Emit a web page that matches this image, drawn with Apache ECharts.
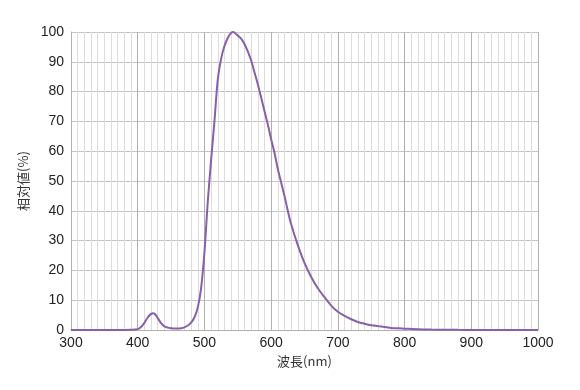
<!DOCTYPE html>
<html>
<head>
<meta charset="utf-8">
<script src="https://cdn.jsdelivr.net/npm/echarts@6/dist/echarts.min.js"></script>
<style>html,body{margin:0;padding:0;background:#fff}#c{width:580px;height:390px}</style>
</head>
<body>
<div id="c"></div>
<script>
var wavelengths = [300,350,380,390,400,405,410,415,420,423,426,430,435,440,445,450,455,460,465,470,475,480,485,490,495,500,505,510,515,520,525,530,535,540,543,546,550,555,560,565,570,575,580,585,590,595,600,605,610,615,620,625,630,640,650,660,670,680,690,700,710,720,730,740,750,760,770,780,790,800,820,840,860,880,900,950,1000];
var relative = [0,0,0,0.05,0.3,1.0,2.4,4.2,5.4,5.6,5.3,4.0,2.3,1.2,0.8,0.6,0.5,0.5,0.6,0.9,1.5,2.5,4.2,7.5,14,26,43,57,70,84,91,95.3,98,99.7,100,99.6,98.8,97.8,96,93.5,90.5,86.5,82.5,78,73.5,69,64,59.5,54,49.5,45,40,35.5,28.5,22.5,17.8,14,11,8.2,6.1,4.7,3.6,2.7,2.1,1.6,1.3,1.0,0.7,0.55,0.45,0.25,0.15,0.1,0.05,0.03,0,0];
var xName = '波長(nm)';
var yName = '相対値(%)';

var pts = wavelengths.map(function(w,i){return [w, relative[i]];});
var font = '"Liberation Sans", Arial, "Noto Sans CJK JP", sans-serif';
var chart = echarts.init(document.getElementById('c'));
chart.setOption({
  animation: false,
  grid: {left: 71, right: 42, top: 32, bottom: 60},
  xAxis: {
    type: 'value', min: 300, max: 1000, interval: 100,
    name: xName, nameLocation: 'middle', nameGap: 24,
    nameTextStyle: {color: '#333', fontSize: 13, fontFamily: '"Noto Sans CJK JP", sans-serif'},
    axisLine: {show: true, lineStyle: {color: '#b0b0b0', width: 1}},
    axisTick: {show: false},
    axisLabel: {color: '#222', fontSize: 14, fontFamily: font, margin: 6, formatter: function(v){return String(v);}},
    splitLine: {show: true, lineStyle: {color: '#b0b0b0', width: 1}},
    minorTick: {show: false, splitNumber: 10},
    minorSplitLine: {show: true, lineStyle: {color: '#dcdcdc', width: 1}}
  },
  yAxis: {
    type: 'value', min: 0, max: 100, interval: 10,
    name: yName, nameLocation: 'middle', nameGap: 40, nameRotate: 90,
    nameTextStyle: {color: '#333', fontSize: 13, fontFamily: '"Noto Sans CJK JP", sans-serif'},
    axisLine: {show: true, lineStyle: {color: '#b0b0b0', width: 1}},
    axisTick: {show: false},
    axisLabel: {color: '#222', fontSize: 14, fontFamily: font, margin: 7},
    splitLine: {show: true, lineStyle: {color: '#c4c4c4', width: 1}}
  },
  series: [{
    type: 'line', data: pts, smooth: 0.3, showSymbol: false,
    lineStyle: {color: '#8660a8', width: 2}
  }]
});
</script>
</body>
</html>
